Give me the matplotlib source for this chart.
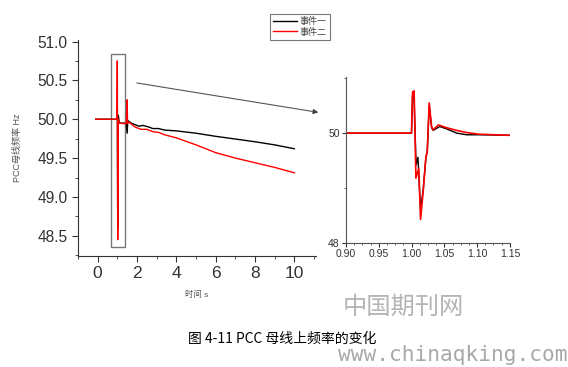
import numpy as np
import matplotlib
import matplotlib.pyplot as plt
from matplotlib.patches import Rectangle, FancyArrowPatch

matplotlib.use('agg')
plt.rcParams['font.family'] = ['Liberation Sans', 'Noto Sans CJK SC', 'DejaVu Sans']

# main plot, event 1 (black)
t1 = [-0.1, 0.98, 1.0, 1.02, 1.05, 1.1, 1.45, 1.5, 1.53, 1.55, 1.7, 1.9, 2.1, 2.3, 2.6,
      2.8, 3.1, 3.4, 4.0, 5.0, 6.0, 7.0, 8.0, 9.0, 10.0]
f1 = [50.0, 50.0, 50.15, 48.6, 50.05, 49.95, 49.95, 49.82, 49.97, 49.98, 49.95, 49.93,
      49.91, 49.92, 49.9, 49.88, 49.88, 49.86, 49.85, 49.82, 49.78, 49.745, 49.71, 49.67, 49.62]
# main plot, event 2 (red)
t2 = [-0.1, 0.98, 1.0, 1.02, 1.05, 1.1, 1.45, 1.5, 1.52, 1.6, 1.9, 2.2, 2.5, 2.8, 3.1,
      3.4, 3.7, 4.0, 5.0, 6.0, 7.0, 8.0, 9.0, 10.0]
f2 = [50.0, 50.0, 50.75, 48.45, 50.0, 49.95, 49.94, 50.25, 49.95, 49.96, 49.9, 49.87,
      49.87, 49.84, 49.83, 49.8, 49.78, 49.76, 49.67, 49.57, 49.5, 49.44, 49.38, 49.31]

# zoomed detail 0.90 - 1.15 s
zt1 = [0.90, 1.000, 1.0016, 1.004, 1.007, 1.0098, 1.0138, 1.018, 1.022, 1.024, 1.027,
       1.0306, 1.033, 1.043, 1.053, 1.069, 1.084, 1.104, 1.15]
zf1 = [50.0, 50.0, 50.7, 50.6, 49.42, 49.56, 48.6, 49.0, 49.57, 49.66, 50.5,
       50.1, 50.05, 50.12, 50.08, 50.0, 49.97, 49.97, 49.96]
zt2 = [0.90, 1.000, 1.0016, 1.004, 1.0067, 1.011, 1.0138, 1.018, 1.022, 1.024, 1.027,
       1.0306, 1.033, 1.041, 1.053, 1.069, 1.084, 1.104, 1.15]
zf2 = [50.0, 50.0, 50.75, 50.77, 49.18, 49.36, 48.43, 48.96, 49.57, 49.66, 50.55,
       50.12, 50.06, 50.15, 50.1, 50.05, 50.01, 49.98, 49.96]

labels = ['事件一', '事件二']

fig = plt.figure(figsize=(5.68, 3.67), dpi=100)

ax = fig.add_axes([0.1373, 0.3025, 0.419, 0.5886])
ax.plot(t1, f1, color='black', lw=1.0, label=labels[0])
ax.plot(t2, f2, color='red', lw=1.0, label=labels[1])
ax.set_xlim(-1, 11.1)
ax.set_ylim(48.24, 51.02)
ax.set_xticks([0, 2, 4, 6, 8, 10])
ax.set_xticks(np.arange(-1, 12, 1), minor=True)
ax.set_yticks([48.5, 49.0, 49.5, 50.0, 50.5, 51.0])
ax.set_yticks(np.arange(48.25, 51.01, 0.25), minor=True)
ax.set_yticklabels(['48.5', '49.0', '49.5', '50.0', '50.5', '51.0'])
for s in ['top', 'right']:
    ax.spines[s].set_visible(False)
for s in ['left', 'bottom']:
    ax.spines[s].set_color('#333333')
ax.tick_params(colors='#333333', direction='out', length=4)
ax.tick_params(axis='y', labelsize=11.2)
ax.tick_params(axis='x', labelsize=12.5)
ax.tick_params(which='minor', length=2, colors='#333333')
ax.set_xlabel('时间 s', fontsize=6, color='#555555', labelpad=7)
ax.set_ylabel('PCC母线频率 Hz', fontsize=6.5, color='#555555', labelpad=11)

ax.add_patch(Rectangle((0.66, 48.36), 0.72, 2.48, fill=False, ec='#777777', lw=1.0))

leg = fig.legend(loc='upper left', bbox_to_anchor=(270 / 568, 1 - 14 / 367),
                 borderaxespad=0, fontsize=6.5, frameon=True, fancybox=False,
                 edgecolor='#555555', handlelength=2.6, borderpad=0.35,
                 labelspacing=0.15, handletextpad=0.3)
leg.get_frame().set_linewidth(0.8)
for txt in leg.get_texts():
    txt.set_color('#444444')

fig.add_artist(plt.Line2D([137 / 568, 316 / 568], [1 - 83 / 367, 1 - 112 / 367],
                          color='#555555', lw=0.8))
fig.patches.append(FancyArrowPatch(
    (310 / 568, 1 - 111 / 367), (321 / 568, 1 - 112.8 / 367),
    transform=fig.transFigure, arrowstyle='-|>', mutation_scale=7,
    color='#333333', lw=0.8))

ins = fig.add_axes([0.609, 0.3379, 0.2887, 0.452])
ins.plot(zt1, zf1, color='black', lw=1.0)
ins.plot(zt2, zf2, color='red', lw=1.2)
ins.set_xlim(0.90, 1.15)
ins.set_ylim(48.0, 51.02)
ins.set_xticks([0.90, 0.95, 1.00, 1.05, 1.10, 1.15])
ins.set_xticklabels(['0.90', '0.95', '1.00', '1.05', '1.10', '1.15'])
ins.set_xticks(np.arange(0.90, 1.151, 0.0125), minor=True)
ins.set_yticks([48, 50])
ins.set_yticks([49, 51], minor=True)
for s in ['top', 'right']:
    ins.spines[s].set_visible(False)
for s in ['left', 'bottom']:
    ins.spines[s].set_color('#555555')
ins.tick_params(labelsize=7.5, colors='#333333', direction='out', length=3, pad=1.5)
ins.tick_params(which='minor', length=1.5, colors='#555555')

fig.text(188 / 568, 1 - 339 / 367, '图 4-11 PCC 母线上频率的变化', fontsize=10,
         va='center', ha='left', color='black', family=['Noto Sans CJK SC'])
fig.text(343 / 568, 1 - 307 / 367, '中国期刊网', fontsize=17.5, va='center', ha='left',
         color='#b4b4b4', family=['Noto Sans CJK SC'])
fig.text(338 / 568, 1 - 355 / 367, 'www.chinaqking.com', fontsize=15.2, va='center',
         ha='left', color='#a8a8a8', family=['DejaVu Sans Mono'])

fig.savefig('out.png', dpi=100)
